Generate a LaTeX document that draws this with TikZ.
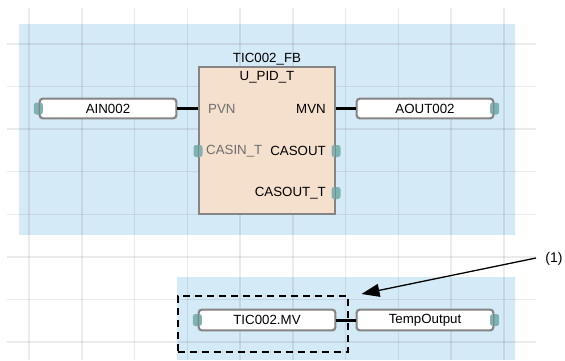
\documentclass[tikz,border=0pt]{standalone}
\usepackage{fontspec}
\setmainfont{Liberation Sans}
\usetikzlibrary{arrows.meta,calc}
\definecolor{bgblue}{HTML}{D5EAF7}
\definecolor{fbfill}{HTML}{F4E0CD}
\definecolor{boxgray}{HTML}{858585}
\definecolor{pinteal}{HTML}{7DB3B2}
\definecolor{intext}{HTML}{6E6E6E}
\tikzset{
  gridline/.style={draw=black, opacity=0.08, line width=1.5pt},
  region/.style={fill=bgblue, draw=none},
  varbox/.style={draw=boxgray, fill=white, line width=1.3pt, rounded corners=3pt,
    minimum width=136pt, minimum height=19pt, inner sep=0pt, font=\fontsize{13.3}{15}\selectfont},
  varedge/.style={draw=boxgray, line width=1.3pt, rounded corners=3pt},
  fbbox/.style={draw=boxgray, fill=fbfill, line width=1.3pt, minimum width=136pt,
    minimum height=147pt, inner sep=0pt},
  fbedge/.style={draw=boxgray, line width=1.3pt},
  pindot/.style={fill=pinteal, draw=none, rounded corners=2.5pt, minimum width=9pt,
    minimum height=12pt, inner sep=0pt},
  lbl/.style={font=\fontsize{13.3}{15}\selectfont, inner sep=0pt},
  inlbl/.style={lbl, text=intext},
  conn/.style={line width=3pt, black},
  dashbox/.style={draw=black, line width=2pt, dash pattern=on 7pt off 5pt, inner sep=0pt},
  callout/.style={line width=1.3pt, -{Triangle[length=18pt,width=13pt]}}
}
\begin{document}
\begin{tikzpicture}[x=1pt,y=-1pt]
\useasboundingbox (0,0) rectangle (565,360);
% blue regions
\fill[region] (19,24) rectangle (515,235);
\fill[region] (177,277) rectangle (515,360);
% grid
\foreach \i in {0,...,9} {
  \draw[gridline] ({29+52.75*\i},8) -- ({29+52.75*\i},360);
}
\foreach \j in {0,...,7} {
  \draw[gridline] (7,{44+42.57*\j}) -- (536,{44+42.57*\j});
}
% function block
\node[fbbox] (fb) at (267,140.5) {};
\node[lbl] (fbname) at (267,59) {TIC002\_FB};
\node[lbl] (fbtype) at (267,77) {U\_PID\_T};
\node[inlbl, anchor=west] (pvn) at (208,108.5) {PVN};
\node[lbl, anchor=east] (mvn) at (326,108.5) {MVN};
\node[inlbl, anchor=west] (casin) at (206,151) {CASIN\_T};
\node[lbl, anchor=east] (casout) at (326,151) {CASOUT};
\node[lbl, anchor=east] (casoutt) at (326,193) {CASOUT\_T};
\node[pindot] (dcasin) at (198,151) {};
\node[pindot] (dcasout) at (336,151) {};
\node[pindot] (dcasoutt) at (336,193) {};
\draw[fbedge] (fb.north west) rectangle (fb.south east);
% variables top
\node[varbox] (ain) at (108,108.5) {AIN002};
\node[pindot] (dain) at ([xshift=-1pt]ain.west) {};
\draw[varedge] (ain.north west) rectangle (ain.south east);
\node[varbox] (aout) at (425,108.5) {AOUT002};
\node[pindot] (daout) at ([xshift=1pt]aout.east) {};
\draw[varedge] (aout.north west) rectangle (aout.south east);
\draw[conn] (ain.east) -- (ain.east -| fb.west);
\draw[conn] (aout.west -| fb.east) -- (aout.west);
% bottom
\node[varbox, minimum height=20pt] (mv) at (267,320) {TIC002.MV};
\node[pindot] (dmv) at ([xshift=-1pt]mv.west) {};
\draw[varedge] (mv.north west) rectangle (mv.south east);
\node[varbox, minimum height=20pt] (tout) at (425,320) {TempOutput};
\node[pindot] (dtout) at ([xshift=1pt]tout.east) {};
\draw[varedge] (tout.north west) rectangle (tout.south east);
\draw[conn] (mv.east) -- (tout.west);
\node[dashbox, minimum width=170pt, minimum height=56pt] (sel) at (262.5,324) {};
% callout
\node[lbl, font=\fontsize{14}{16}\selectfont] (one) at (554,258.5) {(1)};
\coordinate (tip) at ($(sel.north east)+(13,-1)$);
\coordinate (start) at (536,258);
\draw[callout] (start) -- (tip);
\end{tikzpicture}
\end{document}
